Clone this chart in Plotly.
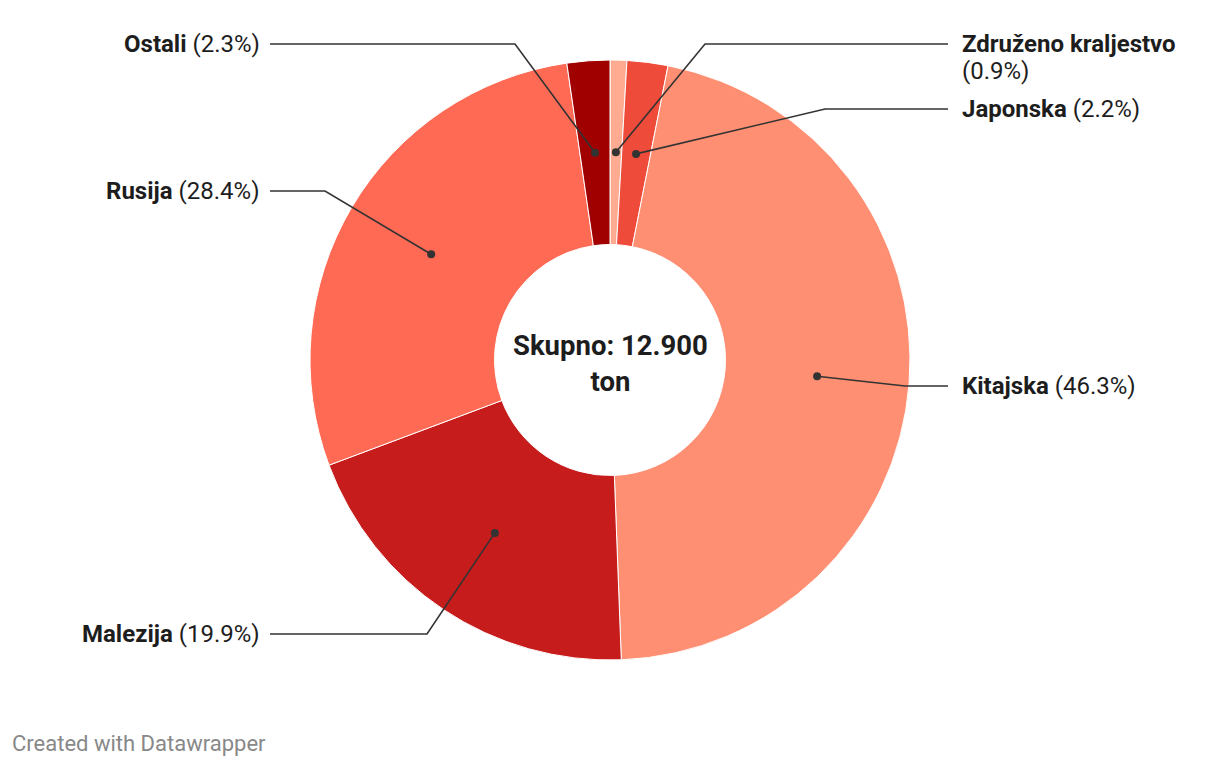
import math

import plotly.graph_objects as go

# data
countries = ["Združeno kraljestvo", "Japonska", "Kitajska", "Malezija", "Rusija", "Ostali"]
shares = [0.9, 2.2, 46.3, 19.9, 28.4, 2.3]
colors = ["#ffab91", "#ee4b3b", "#ff8f73", "#c71c1c", "#ff6a55", "#a00000"]
total_text = "Skupno: 12.900<br>ton"

# layout (page pixels); the html body adds an 8px margin
OFF = 8
W, H = 1220 - OFF, 766 - OFF
CX, CY, R, HOLE = 610, 360, 300, 0.385
FONT = "Roboto, sans-serif"
TEXT = "#1d1d1d"
LINE = "#333333"

# side, label y, elbow x
label_pos = {
    "Združeno kraljestvo": ("right", 44, 705),
    "Japonska": ("right", 109, 825),
    "Kitajska": ("right", 386, 905),
    "Malezija": ("left", 634, 427),
    "Rusija": ("left", 191, 325),
    "Ostali": ("left", 44, 515),
}


def px(x):
    return (x - OFF) / W


def py(y):
    return 1 - (y - OFF) / H


fig = go.Figure(
    go.Pie(
        labels=countries,
        values=shares,
        sort=False,
        direction="clockwise",
        rotation=0,
        hole=HOLE,
        marker=dict(colors=colors, line=dict(color="white", width=1)),
        textinfo="none",
        hoverinfo="label+percent",
        domain=dict(x=[px(CX - R), px(CX + R)], y=[py(CY + R), py(CY - R)]),
    )
)

shapes = []
annotations = []
total = sum(shares)
r_mid = R * (1 + HOLE) / 2
cum = 0.0
for name, val in zip(countries, shares):
    mid = cum + val / 2
    cum += val
    theta = 2 * math.pi * mid / total
    dx = CX + r_mid * math.sin(theta)
    dy = CY - r_mid * math.cos(theta)
    side, ly, ex = label_pos[name]
    end_x = 948 if side == "right" else 270
    path = f"M {px(dx)},{py(dy)} L {px(ex)},{py(ly)} L {px(end_x)},{py(ly)}"
    shapes.append(dict(type="path", path=path, xref="paper", yref="paper",
                       line=dict(color=LINE, width=1.6)))
    shapes.append(dict(type="circle", xref="paper", yref="paper",
                       x0=px(dx - 4), x1=px(dx + 4), y0=py(dy + 4), y1=py(dy - 4),
                       fillcolor=LINE, line=dict(width=0)))
    pct = f"({val:.1f}%)"
    if name == "Združeno kraljestvo":
        annotations.append(dict(text=f"<b>{name}</b>", x=px(960), y=py(ly), xanchor="left"))
        annotations.append(dict(text=pct, x=px(960), y=py(ly + 27), xanchor="left"))
    elif side == "right":
        annotations.append(dict(text=f"<b>{name}</b> {pct}", x=px(960), y=py(ly), xanchor="left"))
    else:
        annotations.append(dict(text=f"<b>{name}</b> {pct}", x=px(262), y=py(ly), xanchor="right"))

for a in annotations:
    a.update(xref="paper", yref="paper", yanchor="middle", showarrow=False,
             font=dict(family=FONT, size=24, color=TEXT))

annotations.append(dict(text=f"<b>{total_text}</b>", x=px(CX), y=py(CY + 3), xref="paper", yref="paper",
                        showarrow=False, xanchor="center", yanchor="middle",
                        font=dict(family=FONT, size=27.5, color=TEXT)))
annotations.append(dict(text="Created with Datawrapper", x=px(10), y=py(743), xref="paper", yref="paper",
                        showarrow=False, xanchor="left", yanchor="middle",
                        font=dict(family=FONT, size=22, color="#888888")))

fig.update_layout(
    width=W,
    height=H,
    margin=dict(l=0, r=0, t=0, b=0),
    paper_bgcolor="white",
    plot_bgcolor="white",
    showlegend=False,
    shapes=shapes,
    annotations=annotations,
    font=dict(family=FONT),
)

fig.write_html("out.html")
